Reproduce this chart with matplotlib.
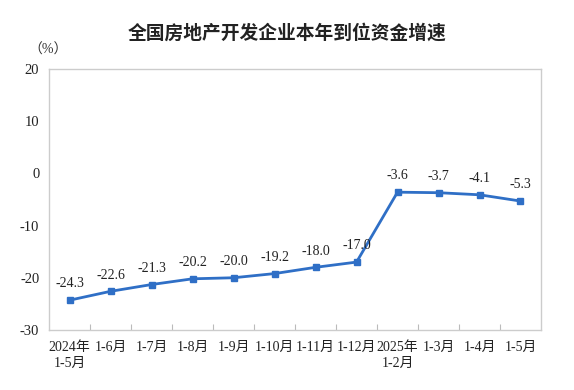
import matplotlib
matplotlib.use("Agg")
import matplotlib.pyplot as plt
import numpy as np

categories = ["2024年\n1-5月", "1-6月", "1-7月", "1-8月", "1-9月", "1-10月", "1-11月",
              "1-12月", "2025年\n1-2月", "1-3月", "1-4月", "1-5月"]
values = [-24.3, -22.6, -21.3, -20.2, -20.0, -19.2, -18.0, -17.0, -3.6, -3.7, -4.1, -5.3]
yticks = [20, 10, 0, -10, -20, -30]
title = "全国房地产开发企业本年到位资金增速"

plt.rcParams['font.family'] = ['Liberation Serif', 'Noto Sans CJK SC']

fig = plt.figure(figsize=(5.74, 3.9), dpi=100)
ax = fig.add_axes([0.0855, 0.154, 0.857, 0.669])

x = np.arange(len(values))
color = "#2f6fc6"
ax.plot(x, values, color=color, lw=2, marker="s", ms=4.5, mec=color, mfc=color, zorder=3)
for xi, v in zip(x, values):
    ax.annotate(f"{v:.1f}", (xi, v), xytext=(0, 7), textcoords="offset points",
                ha="center", va="bottom", fontsize=10, color="#222222")

ax.set_xlim(-0.5, len(values) - 0.5)
ax.set_ylim(-30, 20)
ax.set_yticks(yticks)
ax.set_yticklabels([str(t) for t in yticks], fontsize=10.5, color="#222222")
ax.tick_params(axis="y", length=0, pad=7)

ax.set_xticks(x)
ax.set_xticklabels(categories, fontsize=10, color="#222222", linespacing=1.3)
ax.tick_params(axis="x", which="major", length=0, pad=8)
ax.set_xticks(np.arange(0.5, len(values) - 1, 1.0), minor=True)
ax.tick_params(axis="x", which="minor", direction="in", length=4, color="#bbbbbb", width=0.8)
for lab in ax.get_xticklabels():
    lab.set_verticalalignment("top")

for s in ax.spines.values():
    s.set_color("#cccccc")
    s.set_linewidth(1.0)

fig.text(0.5, 0.915, title, ha="center", va="center", fontsize=13.5,
         family=["Noto Sans CJK SC"], fontweight="bold", color="#222222")
fig.text(0.084, 0.872, "（%）", ha="center", va="center", fontsize=10, color="#333333")

fig.savefig("out.png", dpi=100)
